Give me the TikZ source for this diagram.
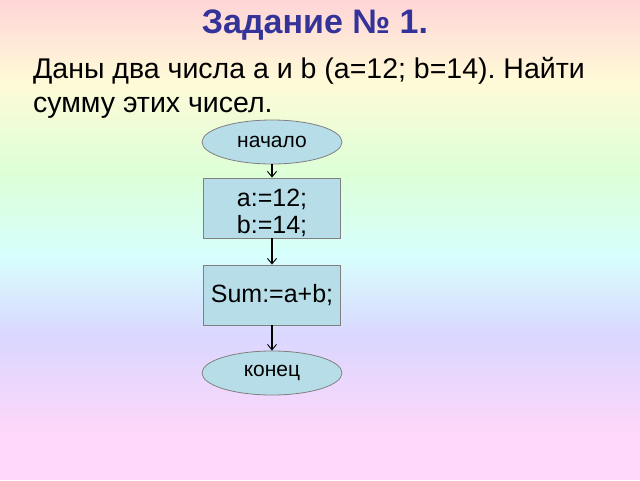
\documentclass[tikz,border=0pt]{standalone}
\usepackage{fontspec}
\setmainfont{Liberation Sans}
\usetikzlibrary{shapes.geometric,arrows.meta}
\definecolor{cpink}{RGB}{255,213,215}
\definecolor{cyellow}{RGB}{255,250,215}
\definecolor{cgreen}{RGB}{220,255,215}
\definecolor{ccyan}{RGB}{215,255,252}
\definecolor{clav}{RGB}{218,215,255}
\definecolor{cpink2}{RGB}{255,215,250}
\definecolor{titleblue}{RGB}{51,51,153}
\definecolor{boxfill}{RGB}{183,222,232}
\definecolor{boxline}{RGB}{128,128,128}
\tikzset{
  term/.style={ellipse,draw=boxline,fill=boxfill,line width=0.8pt,minimum width=140pt,minimum height=44pt,inner sep=0pt,font=\fontsize{21}{24}\selectfont},
  proc/.style={rectangle,draw=boxline,fill=boxfill,line width=0.8pt,minimum width=137pt,minimum height=60pt,inner sep=0pt,align=center,font=\fontsize{25}{27}\selectfont},
  flow/.style={line width=1.4pt,-{Straight Barb[length=5.5pt,width=9pt,line width=0.9pt]}}
}
\begin{document}
\frenchspacing
\begin{tikzpicture}[x=1pt,y=-1pt]
\useasboundingbox (0,0) rectangle (640,480);
\shade[top color=cpink,bottom color=cyellow] (0,0) rectangle (640,80);
\shade[top color=cyellow,bottom color=cgreen] (0,80) rectangle (640,175);
\shade[top color=cgreen,bottom color=ccyan] (0,175) rectangle (640,255);
\shade[top color=ccyan,bottom color=clav] (0,255) rectangle (640,335);
\shade[top color=clav,bottom color=cpink2] (0,335) rectangle (640,435);
\fill[cpink2] (0,435) rectangle (640,480);
\node[font=\bfseries\fontsize{34}{38}\selectfont,text=titleblue,anchor=base,inner sep=0pt] (title) at (315,33) {Задание № 1.};
\node[font=\fontsize{28.5}{33}\selectfont,anchor=base west,inner sep=0pt] (line1) at (33,78) {Даны два числа a и b (a=12; b=14). Найти};
\node[font=\fontsize{28.5}{33}\selectfont,anchor=base west,inner sep=0pt] (line2) at (33,112) {сумму этих чисел.};
\node[term] (start) at (272,142) {начало};
\node[proc] (p1) at (272,208) {\rule{0pt}{27pt}a:=12;\\b:=14;};
\node[proc] (p2) at (272,295) {Sum:=a+b;};
\node[term] (stop) at (272,373) {конец};
\draw[flow] (start) -- (p1);
\draw[flow] (p1) -- (p2);
\draw[flow] (p2) -- (stop);
\end{tikzpicture}
\end{document}
